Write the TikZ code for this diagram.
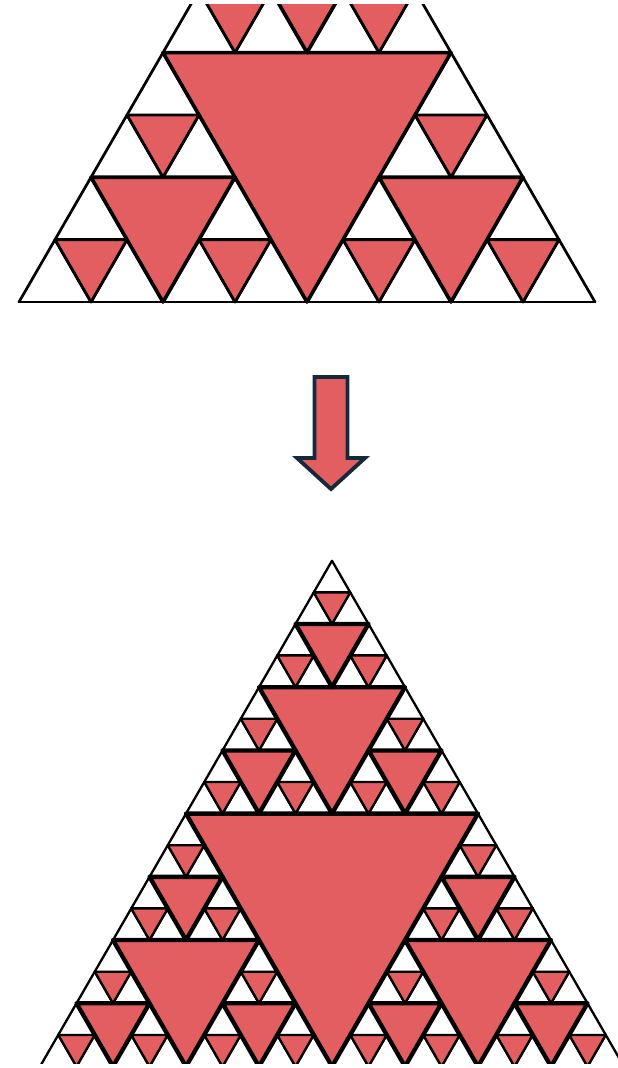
\documentclass[tikz,border=0pt]{standalone}
\definecolor{sred}{HTML}{E35E60}
\definecolor{anavy}{HTML}{14293A}
\tikzset{
  gridline/.style={draw=black,line cap=round},
  redtri/.style={fill=sred,draw=black,line join=round},
  arrowshape/.style={fill=sred,draw=anavy,line width=3.8pt,line join=miter}
}
\def\thinw{2pt}
\def\thickw{3pt}
\newcommand\sierpRec[4]{%
  \ifnum#4>0\relax
  \begingroup
    \pgfmathsetmacro\spX{#1}%
    \pgfmathsetmacro\spY{#2}%
    \pgfmathsetmacro\spL{#3}%
    \pgfmathsetmacro\spH{#3*0.8660254}%
    \pgfmathtruncatemacro\spD{#4-1}%
    \ifnum#4=1 \def\spW{\thinw}\else\def\spW{\thickw}\fi
    \draw[redtri,line width=\spW] (\spX+\spL/4,\spY-\spH/2) -- (\spX+3*\spL/4,\spY-\spH/2) -- (\spX+\spL/2,\spY) -- cycle;
    \pgfmathsetmacro\spHL{\spL/2}%
    \pgfmathsetmacro\spXB{\spX+\spL/2}%
    \pgfmathsetmacro\spXC{\spX+\spL/4}%
    \pgfmathsetmacro\spYC{\spY-\spH/2}%
    \edef\spNext{\noexpand\sierpRec{\spX}{\spY}{\spHL}{\spD}\noexpand\sierpRec{\spXB}{\spY}{\spHL}{\spD}\noexpand\sierpRec{\spXC}{\spYC}{\spHL}{\spD}}%
    \spNext
  \endgroup
  \fi}
\newcommand\sgrid[4]{%
  \begingroup
  \pgfmathsetmacro\gU{#3/#4}%
  \pgfmathsetmacro\gH{\gU*0.8660254}%
  \pgfmathtruncatemacro\gM{#4-1}%
  \foreach \r in {0,...,\gM}{\draw[gridline] (#1+\r*\gU/2,#2-\r*\gH) -- (#1+#3-\r*\gU/2,#2-\r*\gH);}
  \foreach \i in {0,...,\gM}{\draw[gridline] (#1+\i*\gU,#2) -- (#1+\i*\gU+#4*\gU/2-\i*\gU/2,#2-#4*\gH+\i*\gH);}
  \foreach \i in {1,...,#4}{\draw[gridline] (#1+\i*\gU,#2) -- (#1+\i*\gU/2,#2-\i*\gH);}
  \endgroup}
\begin{document}
\begin{tikzpicture}[x=1pt,y=-1pt]
\useasboundingbox (0,0) rectangle (618,1068);
\fill[white] (0,0) rectangle (618,1068);
% top figure (clipped at the top)
\begin{scope}
  \clip (0,4.5) rectangle (618,340);
  \def\thinw{2.8pt}\def\thickw{3.6pt}
  \tikzset{gridline/.append style={line width=2.7pt}}
  \sgrid{19}{302}{576}{8}
  \sierpRec{19}{302}{576}{3}
\end{scope}
% arrow
\draw[arrowshape] (314.5,377) -- (347.5,377) -- (347.5,458) -- (365,458) -- (331,489) -- (297,458) -- (314.5,458) -- cycle;
% bottom figure
\begin{scope}
  \clip (0,520) rectangle (618,1063.8);
  \def\thinw{2.3pt}\def\thickw{4.3pt}
  \tikzset{gridline/.append style={line width=2.3pt}}
  \sgrid{40}{1066.5}{584}{16}
  \sierpRec{40}{1066.5}{584}{4}
\end{scope}
\end{tikzpicture}
\end{document}
